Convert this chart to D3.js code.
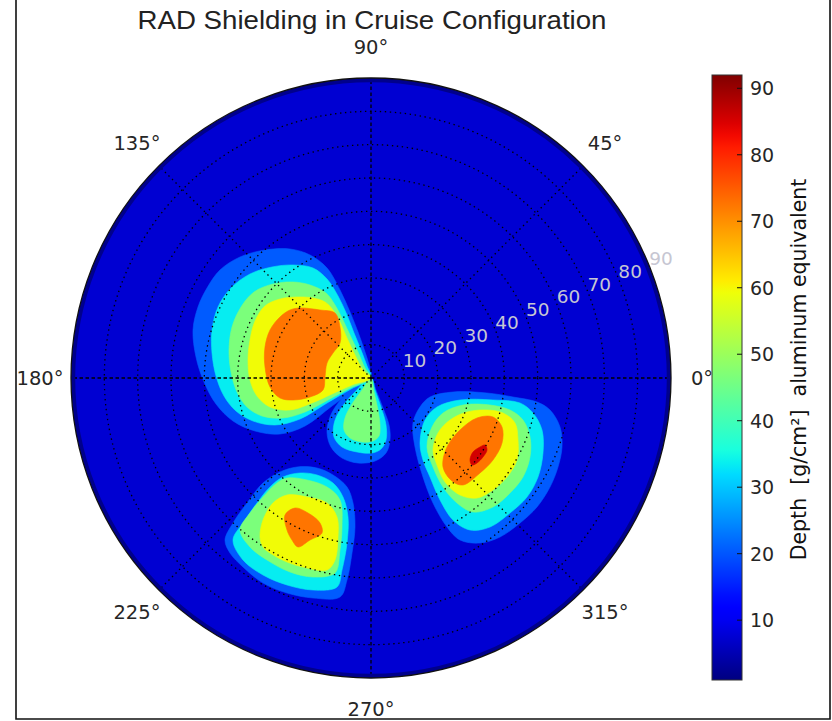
<!DOCTYPE html>
<html>
<head>
<meta charset="utf-8">
<script src="https://cdn.jsdelivr.net/npm/d3@7"></script>
<style>
  html, body { margin: 0; padding: 0; background: #fff; }
  svg { display: block; }
</style>
</head>
<body>
<svg id="chart" width="832" height="721"></svg>
<script>
// ---- data -------------------------------------------------------------
// Filled-contour levels of shielding depth [g/cm²]
const levels = [1, 14, 27, 40, 53, 66, 79, 92];
const radialTicks = [10, 20, 30, 40, 50, 60, 70, 80, 90];
const angleTicks = [0, 45, 90, 135, 180, 225, 270, 315];
const colorbarTicks = [10, 20, 30, 40, 50, 60, 70, 80, 90];

// Contour outlines, given on the polar plane as [r·cosθ, r·sinθ] (r: 0–90)
const lobeUpperLeft = [
  { level: 14, ring: [[0,0],[-0.6,3.9],[-2.1,8.7],[-3.9,13.8],[-6.3,19.8],[-9.3,26.4],[-13.2,33.0],[-18.3,36.9],[-24.3,38.7],[-31.8,38.4],[-39.3,36.3],[-45.3,32.4],[-49.2,27.0],[-51.9,21.3],[-53.4,14.4],[-52.5,6.3],[-50.1,-1.2],[-46.5,-7.8],[-41.4,-12.9],[-34.8,-15.9],[-27.3,-16.8],[-19.8,-14.4],[-11.7,-8.4],[-5.4,-3.9]] },
  { level: 27, ring: [[0,0],[-1.2,3.6],[-3.0,8.4],[-5.1,13.5],[-7.2,18.9],[-9.9,24.6],[-13.2,29.7],[-17.4,33.0],[-23.4,33.9],[-29.7,33.3],[-36.3,31.2],[-42.0,27.0],[-45.9,21.3],[-47.7,14.4],[-47.7,7.5],[-46.5,0.6],[-44.1,-5.4],[-40.5,-9.9],[-35.4,-12.9],[-28.8,-14.1],[-21.3,-12.3],[-13.2,-7.5],[-6.0,-3.3]] },
  { level: 40, ring: [[0,0],[-1.8,3.0],[-3.9,7.8],[-6.3,12.9],[-8.4,17.4],[-10.8,21.9],[-13.5,25.5],[-18.3,27.9],[-23.4,28.8],[-29.4,28.2],[-35.1,25.8],[-39.0,21.3],[-41.7,15.3],[-42.6,8.4],[-42.0,1.8],[-40.2,-4.2],[-37.2,-8.7],[-32.7,-11.4],[-26.4,-12.0],[-19.8,-10.2],[-12.9,-6.6],[-6.3,-3.0]] },
  { level: 53, ring: [[0,0],[-2.4,2.4],[-4.8,6.9],[-7.2,12.0],[-9.3,16.8],[-11.4,20.4],[-13.8,22.8],[-17.4,24.0],[-22.2,24.3],[-27.3,23.7],[-31.8,21.6],[-34.8,17.1],[-36.3,11.4],[-36.9,5.4],[-36.3,-0.6],[-34.2,-5.4],[-30.3,-8.7],[-24.3,-9.6],[-17.7,-7.5],[-11.7,-4.8],[-5.7,-2.1]] },
  { level: 66, ring: [[-21.3,21.0],[-15.3,20.4],[-10.8,19.5],[-9.3,15.3],[-9.3,10.5],[-11.4,7.5],[-13.2,4.5],[-13.8,0.3],[-14.4,-3.6],[-18.3,-5.7],[-23.4,-6.6],[-27.3,-6.0],[-30.3,-2.7],[-31.8,3.3],[-31.8,9.3],[-30.3,14.4],[-27.3,18.3],[-24.3,20.4]] }
];

const lobeBelowCentre = [
  { level: 14, ring: [[0,0],[1.5,-3.6],[3.6,-9.0],[5.4,-14.1],[5.7,-18.6],[4.5,-22.5],[1.2,-24.9],[-3.9,-25.5],[-8.7,-24.0],[-12.0,-20.7],[-13.2,-16.2],[-12.3,-11.7],[-9.6,-7.2],[-5.1,-3.3]] },
  { level: 27, ring: [[0,0],[1.2,-3.6],[3.0,-8.7],[4.5,-14.1],[4.5,-18.6],[3.0,-21.3],[0.3,-22.5],[-4.2,-22.2],[-8.7,-20.7],[-11.1,-17.7],[-11.1,-13.8],[-9.3,-9.6],[-5.1,-4.5]] },
  { level: 40, ring: [[0,0],[0.9,-4.2],[2.1,-9.6],[2.7,-14.1],[2.4,-17.4],[0.6,-18.9],[-2.7,-19.2],[-6.3,-18.0],[-8.1,-15.6],[-7.8,-12.0],[-5.7,-7.8],[-2.7,-3.6]] }
];

const lobeRight = [
  { level: 14, ring: [[12.6,-13.5],[14.7,-8.7],[17.7,-5.7],[24.6,-4.2],[34.8,-4.5],[42.6,-5.7],[49.8,-7.2],[53.7,-9.6],[56.7,-14.7],[57.3,-20.7],[56.1,-26.7],[53.7,-32.7],[49.8,-38.7],[44.7,-43.5],[38.7,-47.7],[32.7,-49.5],[26.7,-48.6],[22.8,-44.7],[18.6,-37.5],[15.6,-29.7],[13.2,-20.7]] },
  { level: 27, ring: [[14.7,-19.5],[16.2,-12.6],[19.8,-8.7],[26.7,-6.6],[36.6,-6.6],[44.7,-7.5],[48.6,-10.5],[51.3,-15.6],[51.6,-22.5],[50.1,-29.7],[46.8,-35.7],[41.7,-40.5],[35.7,-44.7],[29.7,-45.6],[24.6,-42.6],[20.7,-36.6],[17.7,-29.7],[15.6,-24.6]] },
  { level: 40, ring: [[16.8,-20.7],[18.3,-14.7],[21.6,-10.5],[27.6,-8.1],[35.7,-8.1],[41.7,-9.6],[45.6,-12.6],[47.7,-17.7],[47.7,-23.7],[45.6,-29.7],[41.7,-34.5],[36.6,-38.7],[30.6,-40.2],[25.8,-37.5],[21.6,-32.7],[18.6,-26.7]] },
  { level: 53, ring: [[18.6,-21.6],[20.1,-16.5],[23.7,-12.6],[28.8,-10.2],[34.8,-9.6],[39.6,-10.5],[43.2,-13.5],[44.1,-18.6],[43.8,-24.6],[40.8,-29.7],[36.6,-33.6],[31.8,-36.0],[26.7,-35.1],[22.2,-31.2],[19.8,-26.1]] },
  { level: 66, ring: [[21.6,-26.7],[22.8,-20.7],[26.7,-15.6],[31.8,-12.0],[36.6,-11.7],[39.3,-14.7],[39.3,-19.5],[36.6,-24.6],[32.7,-28.5],[27.6,-32.1],[24.3,-30.9]] },
  { level: 79, ring: [[29.7,-24.6],[30.6,-22.2],[32.7,-20.7],[34.2,-20.1],[34.8,-21.6],[33.6,-23.7],[31.8,-25.5],[30.3,-26.1]] }
];

const lobeLowerLeft = [
  { level: 14, ring: [[-43.8,-48.6],[-41.4,-43.5],[-37.2,-37.5],[-32.4,-31.5],[-27.3,-28.2],[-22.2,-26.7],[-16.2,-27.0],[-11.4,-29.1],[-7.2,-32.7],[-5.4,-37.5],[-4.8,-44.7],[-5.7,-52.5],[-7.2,-60.6],[-9.3,-65.7],[-17.4,-66.0],[-25.2,-64.5],[-32.4,-61.5],[-38.4,-56.7],[-42.3,-52.5]] },
  { level: 27, ring: [[-41.4,-48.6],[-38.4,-43.5],[-34.2,-37.5],[-30.3,-32.7],[-26.4,-29.7],[-21.3,-28.5],[-16.2,-29.1],[-11.4,-31.5],[-8.4,-35.7],[-6.9,-41.7],[-7.2,-49.5],[-8.7,-57.6],[-10.2,-62.7],[-17.4,-63.6],[-25.2,-62.1],[-32.4,-59.1],[-38.4,-54.6]] },
  { level: 40, ring: [[-39.3,-45.6],[-36.3,-40.5],[-32.4,-35.7],[-28.2,-31.5],[-25.2,-30.0],[-19.2,-30.6],[-13.2,-32.7],[-9.3,-36.6],[-8.7,-44.7],[-9.3,-51.6],[-10.8,-58.5],[-17.4,-59.7],[-24.3,-58.2],[-31.2,-54.6],[-36.3,-50.7]] },
  { level: 53, ring: [[-33.3,-47.7],[-32.4,-42.6],[-29.4,-37.5],[-25.2,-35.1],[-19.2,-35.7],[-13.2,-37.5],[-10.2,-41.7],[-9.9,-47.7],[-10.8,-54.6],[-13.2,-57.6],[-19.2,-57.0],[-25.2,-55.2],[-30.3,-52.5],[-32.4,-50.7]] },
  { level: 66, ring: [[-25.8,-41.1],[-22.8,-39.0],[-18.9,-40.5],[-15.3,-43.5],[-14.7,-46.5],[-18.3,-48.6],[-21.9,-50.7],[-23.7,-48.6],[-25.2,-45.6]] }
];

// ---- layout -----------------------------------------------------------
const W = 832, H = 721;
const cx = 371, cy = 378, R = 300;
const rMax = 90;
const cbar = { x: 712, w: 30, top: 75, bottom: 680 };

const svg = d3.select("#chart");
svg.append("rect").attr("width", W).attr("height", H).attr("fill", "#fff");

// matplotlib "jet" colormap
const jetR = d3.scaleLinear().domain([0, 0.35, 0.66, 0.89, 1]).range([0, 0, 1, 1, 0.5]).clamp(true);
const jetG = d3.scaleLinear().domain([0, 0.125, 0.375, 0.64, 0.91, 1]).range([0, 0, 1, 1, 0, 0]).clamp(true);
const jetB = d3.scaleLinear().domain([0, 0.11, 0.34, 0.65, 1]).range([0.5, 1, 1, 0, 0]).clamp(true);
const jet = t => d3.rgb(jetR(t) * 255, jetG(t) * 255, jetB(t) * 255).toString();

const vMin = levels[0], vMax = levels[levels.length - 1];
const norm = d3.scaleLinear().domain([vMin, vMax]).range([0, 1]);
// each filled band takes the colour of its mid value
const bandColor = lv => {
  const i = levels.indexOf(lv);
  return jet(norm((levels[i] + levels[i + 1]) / 2));
};

// polar-plane scales
const px = d3.scaleLinear().domain([-rMax, rMax]).range([cx - R, cx + R]);
const py = d3.scaleLinear().domain([-rMax, rMax]).range([cy + R, cy - R]);
const rs = d3.scaleLinear().domain([0, rMax]).range([0, R]);

const defs = svg.append("defs");
defs.append("clipPath").attr("id", "disk")
  .append("circle").attr("cx", cx).attr("cy", cy).attr("r", R);

// ---- contour fill -------------------------------------------------------
const plot = svg.append("g").attr("clip-path", "url(#disk)");
plot.append("circle").attr("cx", cx).attr("cy", cy).attr("r", R)
  .attr("fill", bandColor(levels[0]));

const contourLine = d3.line()
  .x(d => px(d[0])).y(d => py(d[1]))
  .curve(d3.curveCatmullRomClosed.alpha(0.5));

const lobes = [lobeUpperLeft, lobeBelowCentre, lobeRight, lobeLowerLeft];
levels.slice(1, -1).forEach(lv => {
  lobes.forEach(lobe => {
    lobe.filter(c => c.level === lv).forEach(c => {
      plot.append("path").attr("d", contourLine(c.ring))
        .attr("fill", bandColor(lv)).attr("stroke", bandColor(lv)).attr("stroke-width", 0.6);
    });
  });
});

// ---- grid -----------------------------------------------------------------
const grid = svg.append("g").attr("fill", "none").attr("stroke", "#000");
grid.selectAll("circle.ring").data(radialTicks.slice(0, -1)).join("circle")
  .attr("class", "ring")
  .attr("cx", cx).attr("cy", cy).attr("r", d => rs(d))
  .attr("stroke-width", 1.3).attr("stroke-dasharray", "1.4,3.6");

grid.selectAll("line.spoke").data(angleTicks).join("line")
  .attr("class", "spoke")
  .attr("x1", cx).attr("y1", cy)
  .attr("x2", d => cx + R * Math.cos(d * Math.PI / 180))
  .attr("y2", d => cy - R * Math.sin(d * Math.PI / 180))
  .attr("stroke-width", 1.3)
  .attr("stroke-dasharray", d => d % 90 === 0 ? "3.5,2.5" : "1.4,3.6");

// rim of the plotting disk
svg.append("circle").attr("cx", cx).attr("cy", cy).attr("r", R - 2.2)
  .attr("fill", "none").attr("stroke", "#00008c").attr("stroke-width", 4);
svg.append("circle").attr("cx", cx).attr("cy", cy).attr("r", R)
  .attr("fill", "none").attr("stroke", "#111").attr("stroke-width", 1.3);

// ---- angle and radius labels -----------------------------------------------
const labelFont = "'DejaVu Sans', Verdana, sans-serif";
svg.append("g").selectAll("text").data(angleTicks).join("text")
  .attr("x", d => cx + (R + 31) * Math.cos(d * Math.PI / 180))
  .attr("y", d => cy - (R + 31) * Math.sin(d * Math.PI / 180))
  .attr("text-anchor", "middle").attr("dominant-baseline", "central")
  .attr("font-family", labelFont).attr("font-size", 19.5).attr("fill", "#262626")
  .text(d => d + "°");

const rLabelAngle = 22.5 * Math.PI / 180;
svg.append("g").selectAll("text").data(radialTicks).join("text")
  .attr("x", d => cx + rs(d) * Math.cos(rLabelAngle) + 1)
  .attr("y", d => cy - rs(d) * Math.sin(rLabelAngle) + 2)
  .attr("font-family", labelFont).attr("font-size", 18.5).attr("fill", "#c6c6d2")
  .text(d => d);

// ---- title -----------------------------------------------------------------
svg.append("text")
  .attr("x", 372).attr("y", 29).attr("text-anchor", "middle")
  .attr("font-family", "'Liberation Sans', Arial, sans-serif")
  .attr("font-size", 25).attr("fill", "#222")
  .attr("textLength", 469).attr("lengthAdjust", "spacingAndGlyphs")
  .text("RAD Shielding in Cruise Configuration");

// ---- colour bar --------------------------------------------------------------
const grad = defs.append("linearGradient").attr("id", "jetbar")
  .attr("x1", 0).attr("y1", 1).attr("x2", 0).attr("y2", 0);
d3.range(0, 1.0001, 0.02).forEach(t => {
  grad.append("stop").attr("offset", t).attr("stop-color", jet(t));
});
const cy2 = d3.scaleLinear().domain([vMin, vMax]).range([cbar.bottom, cbar.top]);
svg.append("rect")
  .attr("x", cbar.x).attr("y", cbar.top).attr("width", cbar.w).attr("height", cbar.bottom - cbar.top)
  .attr("fill", "url(#jetbar)").attr("stroke", "#333").attr("stroke-width", 1);

const cbAxis = svg.append("g");
cbAxis.selectAll("line").data(colorbarTicks).join("line")
  .attr("x1", cbar.x + cbar.w - 5).attr("x2", cbar.x + cbar.w)
  .attr("y1", d => cy2(d)).attr("y2", d => cy2(d))
  .attr("stroke", "#111").attr("stroke-width", 1);
cbAxis.selectAll("text").data(colorbarTicks).join("text")
  .attr("x", cbar.x + cbar.w + 8).attr("y", d => cy2(d))
  .attr("dominant-baseline", "central")
  .attr("font-family", labelFont).attr("font-size", 19).attr("fill", "#262626")
  .text(d => d);

svg.append("text")
  .attr("transform", `translate(806, ${(cbar.top + cbar.bottom) / 2 - 8}) rotate(-90)`)
  .attr("text-anchor", "middle")
  .attr("font-family", labelFont).attr("font-size", 20.5).attr("fill", "#111")
  .style("white-space", "pre")
  .text("Depth  [g/cm²]  aluminum equivalent");

// ---- figure frame ------------------------------------------------------------
svg.append("path")
  .attr("d", "M16,0 V719 H830 V0")
  .attr("fill", "none").attr("stroke", "#111").attr("stroke-width", 1.6);
</script>
</body>
</html>
